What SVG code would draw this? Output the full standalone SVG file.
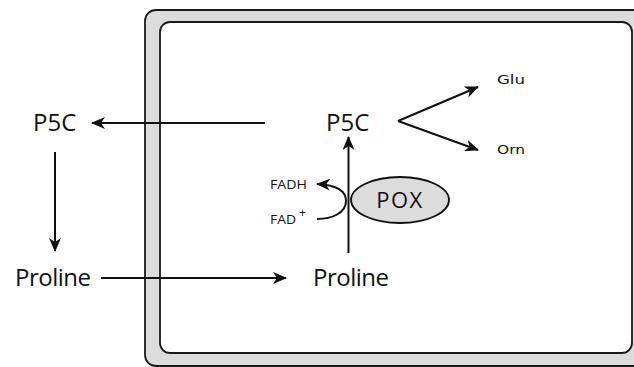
<svg xmlns="http://www.w3.org/2000/svg" width="634" height="367" viewBox="0 0 634 367">
  <style>
    .wall { fill: #dcdcdc; stroke: #1a1a1a; stroke-width: 1.8; }
    .cell { fill: #ffffff; stroke: #1a1a1a; stroke-width: 1.8; }
    .lbl { font-family: "Open Sans", "Noto Sans", "DejaVu Sans", sans-serif; fill: #111; }
    .big { font-size: 24px; }
    .small { font-size: 13.5px; }
    .tiny { font-family: "DejaVu Sans", "Open Sans", sans-serif; font-size: 11.5px; font-weight: 500; }
    .line { fill: none; stroke: #111; stroke-width: 2; }
  </style>
  <defs>
    <marker id="head" viewBox="0 0 14 12" refX="13" refY="6" markerWidth="14" markerHeight="12" markerUnits="userSpaceOnUse" orient="auto">
      <path d="M0,0 L14,6 L0,12 L4,6 Z" fill="#111"/>
    </marker>
  </defs>

  <!-- cell wall / membrane -->
  <g id="cell">
    <rect class="wall" x="145" y="10" width="500" height="356" rx="11" ry="11"/>
    <rect class="cell" x="160" y="22" width="472" height="331" rx="10" ry="10"/>
  </g>

  <!-- connectors -->
  <g id="connectors">
    <line class="line" x1="265" y1="123" x2="92" y2="123" marker-end="url(#head)"/>
    <line class="line" x1="55" y1="152" x2="55" y2="251" marker-end="url(#head)"/>
    <line class="line" x1="101" y1="278" x2="286" y2="278" marker-end="url(#head)"/>
    <line class="line" x1="348.5" y1="253" x2="348.5" y2="137" marker-end="url(#head)"/>
    <line class="line" x1="398" y1="121" x2="478" y2="87" marker-end="url(#head)"/>
    <line class="line" x1="398" y1="121" x2="478" y2="150" marker-end="url(#head)"/>
    <path class="line" d="M317,219 C332,219 346,213 346,201 C346,191 338,185 317,184" marker-end="url(#head)"/>
  </g>

  <g id="p5c-out">
    <text class="lbl big" x="33" y="131">P5C</text>
  </g>
  <g id="proline-out">
    <text class="lbl big" x="15" y="286" letter-spacing="-0.5">Proline</text>
  </g>
  <g id="proline-in">
    <text class="lbl big" x="313" y="286" letter-spacing="-0.5">Proline</text>
  </g>
  <g id="p5c-in">
    <text class="lbl big" x="326" y="131">P5C</text>
  </g>
  <g id="glu">
    <text class="lbl tiny" x="497" y="84" textLength="28" lengthAdjust="spacingAndGlyphs">Glu</text>
  </g>
  <g id="orn">
    <text class="lbl tiny" x="497" y="154" textLength="28" lengthAdjust="spacingAndGlyphs">Orn</text>
  </g>
  <g id="fadh">
    <text class="lbl small" x="270" y="189" textLength="37" lengthAdjust="spacingAndGlyphs">FADH</text>
  </g>
  <g id="fad">
    <text class="lbl small" x="270" y="224"><tspan textLength="26" lengthAdjust="spacingAndGlyphs">FAD</tspan><tspan x="299" y="217" font-size="12" fill="#111">+</tspan></text>
  </g>
  <g id="pox">
    <ellipse cx="400" cy="200" rx="49" ry="23" fill="#dcdcdc" stroke="#111" stroke-width="1.8"/>
    <text class="lbl" x="400" y="208" font-size="22" letter-spacing="1.5" text-anchor="middle">POX</text>
  </g>
</svg>
